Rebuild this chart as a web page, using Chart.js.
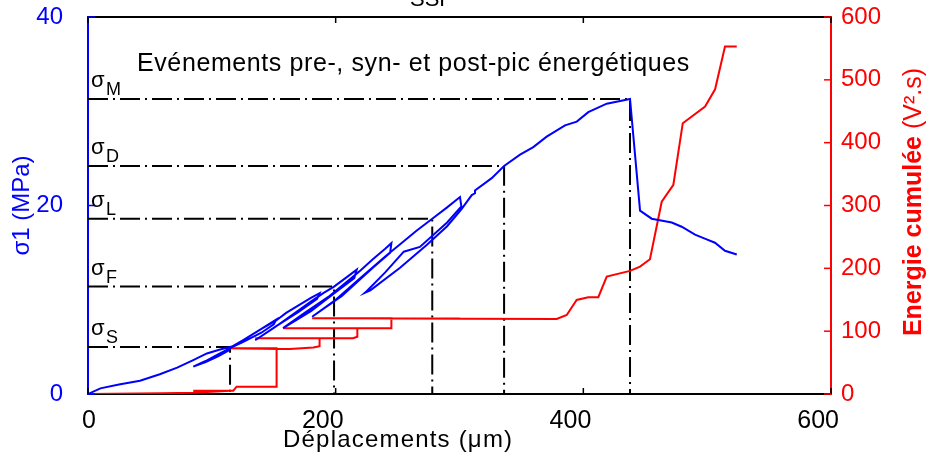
<!DOCTYPE html>
<html>
<head>
<meta charset="utf-8">
<script src="https://cdn.jsdelivr.net/npm/chart.js@4.4.0/dist/chart.umd.min.js"></script>
<style>
  html, body { margin: 0; padding: 0; background: #fff; }
  #wrap { width: 932px; height: 457px; }
</style>
</head>
<body>
<div id="wrap"><canvas id="chart"></canvas></div>
<script>
// sigma1 (MPa) against displacement (um), with the unload / reload loops
const dispStress = [0, 10, 25, 42, 58, 72, 85, 96, 106, 114.7,
  113.5, 105, 95, 85,
  95, 105, 114, 120, 130, 140, 152,
  150, 140, 125, 112,
  125, 140, 152, 160, 170, 180, 187,
  185, 170, 152, 135,
  150, 165, 180, 190, 198.7, 209, 217,
  215, 200, 180, 157.5,
  175, 195, 210, 220, 230, 240, 245,
  244, 230, 205, 181,
  200, 220, 240, 255, 265, 278, 290, 300.4,
  301.5, 290, 268, 255, 240, 225, 223.7,
  228, 252, 273.5, 290, 301.5, 309.9, 312.5, 312.5, 326, 336, 348.9, 359.6, 370.4,
  385.2, 394.7, 404, 418.9, 437.7,
  445.8, 455.2, 471.4, 479.4, 490.2, 499.6, 506.3, 514.4, 523.9];
const sigma1 = [0, 0.6, 1.0, 1.4, 2.1, 2.8, 3.6, 4.3, 4.7, 5.0,
  4.6, 4.0, 3.4, 2.9,
  3.5, 4.2, 4.8, 5.3, 6.1, 6.9, 7.9,
  7.4, 6.5, 5.5, 4.7,
  5.7, 6.9, 7.8, 8.6, 9.4, 10.2, 10.7,
  10.1, 8.7, 7.2, 5.7,
  7.0, 8.4, 9.8, 10.7, 11.4, 12.4, 13.2,
  12.3, 10.8, 8.8, 7.0,
  8.6, 10.4, 12.0, 13.1, 14.3, 15.4, 16.0,
  15.0, 13.4, 10.4, 8.2,
  10.0, 12.3, 14.6, 16.2, 17.3, 18.6, 19.8, 20.9,
  19.9, 18.2, 15.6, 15.1, 12.9, 10.9, 10.75,
  11.0, 13.4, 15.8, 17.8, 19.6, 21.1, 21.3, 21.6, 22.9, 24.2, 25.4, 26.2, 27.3,
  28.5, 28.9, 29.9, 30.8, 31.3,
  19.45, 18.6, 18.2, 17.75, 16.9, 16.4, 16.05, 15.2, 14.8];

// cumulated energy (V2.s) against displacement
const dispEnergy = [0, 60, 85, 114.7, 85, 117.3, 120, 152.3, 152.3, 112, 155, 163, 182, 187, 187,
  135, 214, 217.5, 217.5, 157.7, 245, 245, 181, 300.4, 223.7, 378.5, 386.6, 394.6,
  404, 412.1, 418.9, 437.7, 445.8, 453.8, 463.3, 472.7, 480.3, 498.3, 506.4, 514.4, 523.9];
const energy = [0, 1, 2, 5, 5, 5.3, 11.6, 11.6, 72.8, 72.8, 71.5, 71.5, 74, 76, 88.7,
  88.7, 88.7, 91, 104.6, 104.6, 104.6, 120.5, 120.5, 120, 120, 119.4, 125.8, 149.7,
  154, 154, 186.8, 196, 202.7, 214.5, 306, 333, 431, 457.5, 485, 553, 553];

// characteristic stress levels
const levelNames = ['S', 'F', 'L', 'D', 'M'];
const levelStress = [5.0, 11.4, 18.6, 24.2, 31.3];
const levelDisp = [114.7, 198.7, 278, 336, 437.7];

const xTicks = [0, 200, 400, 600];
const yTicks = [0, 20, 40];
const y2Ticks = [0, 100, 200, 300, 400, 500, 600];

const FONT = '"Liberation Sans", Arial, sans-serif';
Chart.defaults.font.family = FONT;

const toXY = (xs, ys) => xs.map((v, i) => ({ x: v, y: ys[i] }));

const guides = levelNames.map((n, i) => ({
  label: 'sigma ' + n,
  data: [{ x: 0, y: levelStress[i] }, { x: levelDisp[i], y: levelStress[i] }, { x: levelDisp[i], y: 0 }],
  yAxisID: 'y',
  borderColor: '#000',
  borderWidth: 2,
  borderDash: [20, 5, 2, 5],
  pointRadius: 0,
  showLine: true,
  tension: 0
}));

const decor = {
  id: 'decor',
  afterDatasetsDraw(chart) {
    const { ctx, chartArea: a, scales } = chart;
    const { x, y, y2 } = scales;
    ctx.save();
    // top frame + inward ticks
    ctx.strokeStyle = '#000';
    ctx.lineWidth = 2;
    ctx.beginPath();
    ctx.moveTo(a.left, a.top);
    ctx.lineTo(a.right, a.top);
    ctx.stroke();
    ctx.lineWidth = 1.5;
    x.ticks.forEach(t => {
      const px = x.getPixelForValue(t.value);
      ctx.beginPath();
      ctx.moveTo(px, a.top); ctx.lineTo(px, a.top + 6);
      ctx.moveTo(px, a.bottom); ctx.lineTo(px, a.bottom - 6);
      ctx.stroke();
    });
    ctx.strokeStyle = '#0000ff';
    y.ticks.forEach(t => {
      const py = y.getPixelForValue(t.value);
      ctx.beginPath(); ctx.moveTo(a.left, py); ctx.lineTo(a.left + 7, py); ctx.stroke();
    });
    ctx.strokeStyle = '#ff0000';
    y2.ticks.forEach(t => {
      const py = y2.getPixelForValue(t.value);
      ctx.beginPath(); ctx.moveTo(a.right, py); ctx.lineTo(a.right - 7, py); ctx.stroke();
    });

    // sigma labels
    ctx.fillStyle = '#000';
    ctx.textAlign = 'left';
    ctx.textBaseline = 'alphabetic';
    levelNames.forEach((n, i) => {
      const py = y.getPixelForValue(levelStress[i]);
      ctx.font = '22px ' + FONT;
      ctx.fillText('σ', a.left + 3, py - 12);
      ctx.font = '18px ' + FONT;
      ctx.fillText(n, a.left + 18, py - 4);
    });

    // annotation
    ctx.font = '25px ' + FONT;
    ctx.letterSpacing = '0.6px';
    ctx.fillText('Evénements pre-, syn- et post-pic énergétiques', 137, 71);
    ctx.letterSpacing = '0px';

    // title (cut at the top edge)
    ctx.textAlign = 'center';
    ctx.font = '22px ' + FONT;
    ctx.fillText('SSP', 432, 6);

    // x axis title
    ctx.textAlign = 'left';
    ctx.font = '24px ' + FONT;
    ctx.letterSpacing = '1.2px';
    ctx.fillText('Déplacements (μm)', 283, 447);
    ctx.letterSpacing = '0px';

    // left axis title
    ctx.save();
    ctx.translate(29, (a.top + a.bottom) / 2);
    ctx.rotate(-Math.PI / 2);
    ctx.textAlign = 'center';
    ctx.fillStyle = '#0000ff';
    ctx.font = '24px ' + FONT;
    ctx.fillText('σ1 (MPa)', 0, 0);
    ctx.restore();

    // right axis title
    ctx.save();
    ctx.translate(921, 202);
    ctx.rotate(-Math.PI / 2);
    ctx.fillStyle = '#ff0000';
    const boldPart = 'Energie cumulée ';
    const regPart = '(V².s)';
    ctx.font = 'bold 25px ' + FONT;
    const w1 = ctx.measureText(boldPart).width;
    ctx.font = '25px ' + FONT;
    const w2 = ctx.measureText(regPart).width;
    ctx.textAlign = 'left';
    ctx.font = 'bold 25px ' + FONT;
    ctx.fillText(boldPart, -(w1 + w2) / 2, 0);
    ctx.font = '25px ' + FONT;
    ctx.fillText(regPart, -(w1 + w2) / 2 + w1, 0);
    ctx.restore();

    ctx.restore();
  }
};

new Chart(document.getElementById('chart'), {
  type: 'scatter',
  data: {
    datasets: [
      {
        label: 'sigma1',
        data: toXY(dispStress, sigma1),
        yAxisID: 'y',
        borderColor: '#0000ff',
        borderWidth: 2,
        pointRadius: 0,
        showLine: true,
        tension: 0
      },
      {
        label: 'energie',
        data: toXY(dispEnergy, energy),
        yAxisID: 'y2',
        borderColor: '#ff0000',
        borderWidth: 2,
        pointRadius: 0,
        showLine: true,
        tension: 0
      },
      ...guides
    ]
  },
  options: {
    responsive: true,
    maintainAspectRatio: false,
    animation: false,
    layout: { padding: { top: 17, left: 0, right: 0, bottom: 0 } },
    plugins: { legend: { display: false }, tooltip: { enabled: false } },
    scales: {
      x: {
        type: 'linear',
        min: 0, max: 600,
        afterBuildTicks: s => { s.ticks = xTicks.map(v => ({ value: v })); },
        afterFit: s => { s.height = 63; s.paddingLeft = 0; s.paddingRight = 0; },
        grid: { display: false },
        border: { color: '#000', width: 2 },
        ticks: { color: '#000', font: { size: 25 }, padding: 4, align: 'end', labelOffset: 8, maxRotation: 0 }
      },
      y: {
        type: 'linear',
        position: 'left',
        min: 0, max: 40,
        afterBuildTicks: s => { s.ticks = yTicks.map(v => ({ value: v })); },
        afterFit: s => { s.width = 88; s.paddingTop = 0; s.paddingBottom = 0; },
        grid: { display: false },
        border: { color: '#0000ff', width: 2 },
        ticks: { color: '#0000ff', font: { size: 24 }, padding: 17 }
      },
      y2: {
        type: 'linear',
        position: 'right',
        min: 0, max: 600,
        afterBuildTicks: s => { s.ticks = y2Ticks.map(v => ({ value: v })); },
        afterFit: s => { s.width = 101; s.paddingTop = 0; s.paddingBottom = 0; },
        grid: { display: false },
        border: { color: '#ff0000', width: 2 },
        ticks: { color: '#ff0000', font: { size: 24 }, padding: 2 }
      }
    }
  },
  plugins: [decor]
});
</script>
</body>
</html>
